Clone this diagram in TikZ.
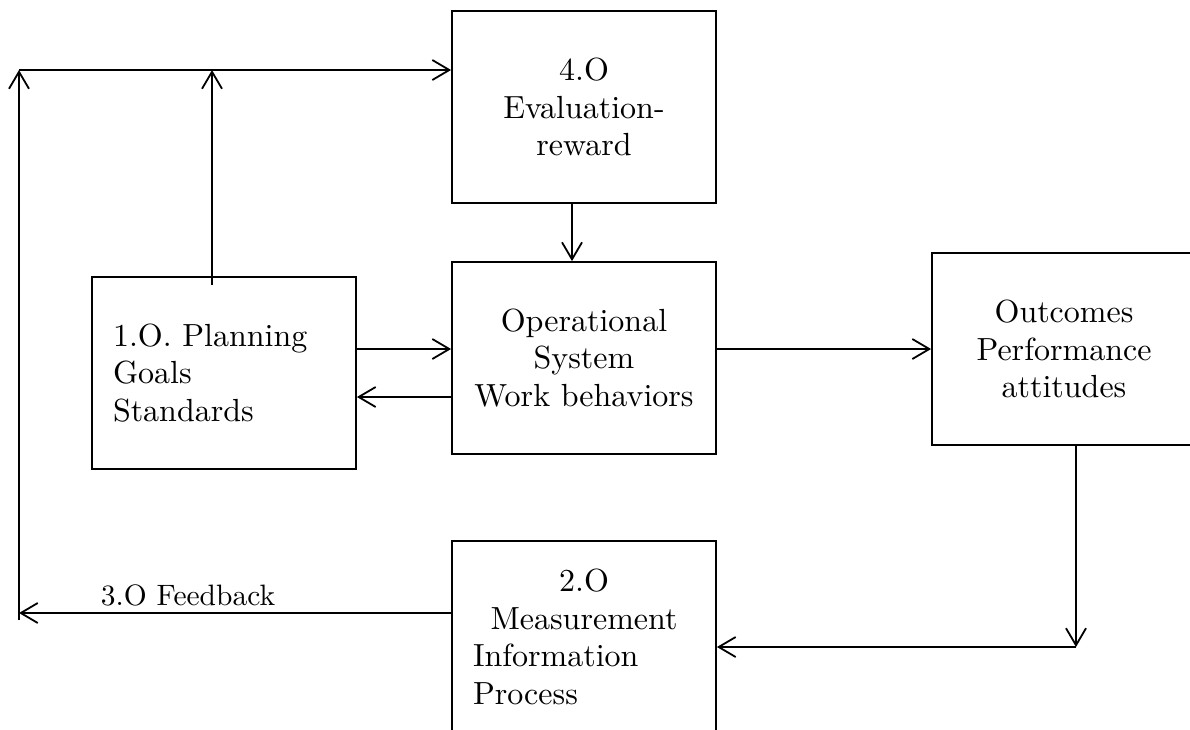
\documentclass[tikz,border=0pt]{standalone}
\usepackage{fontspec}
\newfontfamily\boxfont{lmroman10-regular.otf}
\usetikzlibrary{arrows.meta}
\begin{document}
\begin{tikzpicture}[x=1pt,y=-1pt,
  box/.style={draw,line width=1.8pt,minimum width=264pt,minimum height=192pt,inner sep=0pt,align=center,
    font=\boxfont\fontsize{32}{37.5}\selectfont},
  arr/.style={line width=1.8pt,-{Straight Barb[length=17pt,width=20pt,line width=1.8pt]}},
  lbl/.style={anchor=base,inner sep=0pt,font=\boxfont\fontsize{29.5}{35}\selectfont}]
\useasboundingbox (0,0) rectangle (1190,729);
\clip (0,0) rectangle (1190,729);
\node[box] (eval) at (584,107) {4.O\\Evaluation-\\reward};
\node[box] (ops) at (584,358) {Operational\\System\\Work behaviors};
\node[box,align=left,text width=222pt] (plan) at (224,373) {1.O. Planning\\Goals\\Standards};
\node[box] (out) at (1064,349) {Outcomes\\Performance\\attitudes};
\node[box,align=left,text width=222pt] (meas) at (584,637)
  {\makebox[222pt]{2.O}\\\makebox[222pt]{Measurement}\\Information\\Process};
\coordinate (tl) at (19,70);
\coordinate (bl) at (19,620);
\coordinate (fb) at (19,613);
\coordinate (br) at (1076,647);
% top loop
\draw[arr] (bl) -- (tl);
\draw[arr] (tl) -- (eval.west |- tl);
\draw[arr] ([xshift=-12pt,yshift=-9pt]plan.north) -- ([xshift=-12pt]plan.north |- tl);
\draw[arr] ([xshift=-12pt]eval.south) -- ([xshift=-12pt]ops.north);
% planning <-> operational
\draw[arr] ([yshift=24pt]plan.east) -- ([yshift=24pt]plan.east -| ops.west);
\draw[arr] ([yshift=-24pt]plan.east -| ops.west) -- ([yshift=-24pt]plan.east);
% operational -> outcomes
\draw[arr] (ops.east |- out.west) -- (out.west);
% outcomes -> measurement
\draw[arr] ([xshift=12pt]out.south) -- (br);
\draw[arr] (br) -- (br -| meas.east);
% feedback
\draw[arr] (meas.west |- fb) -- (fb);
\node[lbl] (fblabel) at (188,605) {3.O Feedback};
\end{tikzpicture}
\end{document}
